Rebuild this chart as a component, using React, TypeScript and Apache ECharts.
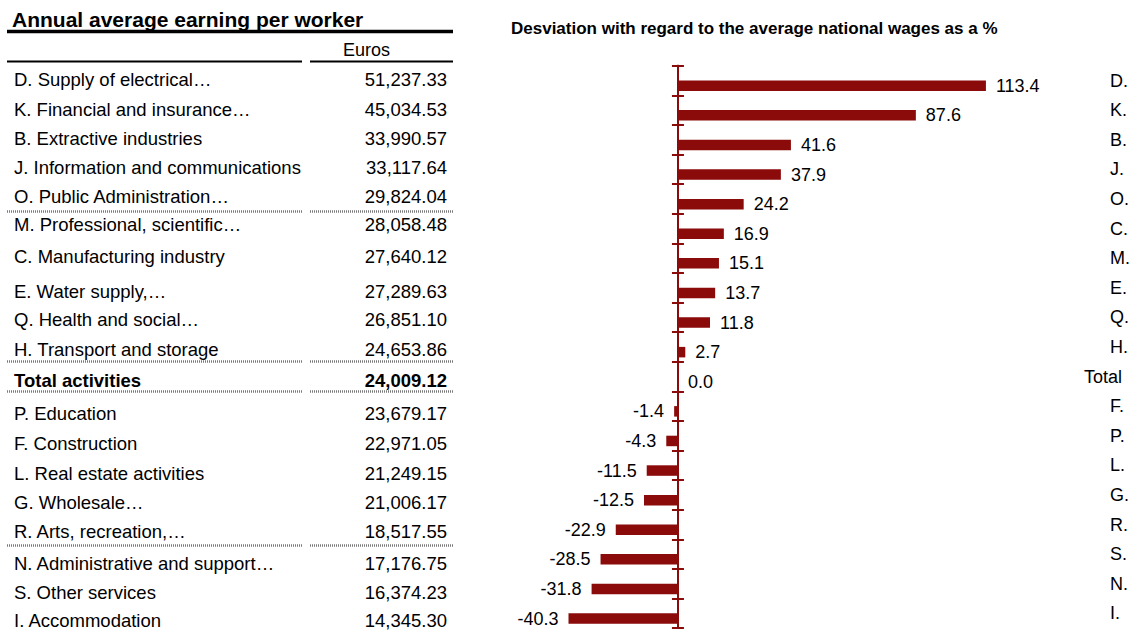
import React, { useEffect, useRef } from 'react';
import * as echarts from 'echarts';

// ---------- data ----------
const tableTitle = 'Annual average earning per worker';
const tableUnit = 'Euros';
const tableRows = [
  'D. Supply of electrical…',
  'K. Financial and insurance…',
  'B. Extractive industries',
  'J. Information and communications',
  'O. Public Administration…',
  'M. Professional, scientific…',
  'C. Manufacturing industry',
  'E. Water supply,…',
  'Q. Health and social…',
  'H. Transport and storage',
  'Total activities',
  'P. Education',
  'F. Construction',
  'L. Real estate activities',
  'G. Wholesale…',
  'R. Arts, recreation,…',
  'N. Administrative and support…',
  'S. Other services',
  'I. Accommodation',
];
const tableValues = [
  51237.33, 45034.53, 33990.57, 33117.64, 29824.04, 28058.48, 27640.12, 27289.63, 26851.1,
  24653.86, 24009.12, 23679.17, 22971.05, 21249.15, 21006.17, 18517.55, 17176.75, 16374.23, 14345.3,
];
const totalRowName = 'Total activities';

const chartTitle = 'Desviation with regard to the average national wages as a %';
const chartCategories = ['D.', 'K.', 'B.', 'J.', 'O.', 'C.', 'M.', 'E.', 'Q.', 'H.', 'Total', 'F.', 'P.', 'L.', 'G.', 'R.', 'S.', 'N.', 'I.'];
const chartValues = [113.4, 87.6, 41.6, 37.9, 24.2, 16.9, 15.1, 13.7, 11.8, 2.7, 0.0, -1.4, -4.3, -11.5, -12.5, -22.9, -28.5, -31.8, -40.3];

// ---------- layout (positions / styles) ----------
const FONT = '"Liberation Sans", Arial, sans-serif';
const RED = '#8B0A0A';
const rowY = [79.5, 109.5, 138.5, 167, 196, 224, 256.5, 291, 319.5, 349.5, 380, 413.5, 443, 473, 502, 531.5, 563.5, 592.5, 620.5];
const dottedY = [211.5, 361.5, 391.5, 545.5];

function fmt(v: number) {
  return v.toLocaleString('en-US', { minimumFractionDigits: 2, maximumFractionDigits: 2 });
}

function txt(text: string, x: number, y: number, font: string, align = 'left') {
  return {
    type: 'text',
    silent: true,
    style: {
      text,
      x,
      y,
      font,
      fill: '#000',
      align,
      textAlign: align,
      verticalAlign: 'middle',
      textVerticalAlign: 'middle',
    },
  };
}

function hline(x1: number, x2: number, y: number, width: number, stroke: string, dash?: number[]) {
  return {
    type: 'line',
    silent: true,
    shape: { x1, y1: y, x2, y2: y },
    style: { stroke, lineWidth: width, lineDash: dash || null },
  };
}

export default function App() {
  const ref = useRef<HTMLDivElement>(null);

  useEffect(() => {
    document.body.style.margin = '0';
    const chart = echarts.init(ref.current!, null, { renderer: 'svg' });

    const graphics: any[] = [];
    graphics.push(txt(tableTitle, 12, 19.5, `bold 21px ${FONT}`));
    graphics.push(hline(7, 453, 31.5, 3.5, '#000'));
    graphics.push(txt(tableUnit, 343, 50, `18px ${FONT}`));
    graphics.push(hline(7, 302, 61.5, 2.2, '#000'));
    graphics.push(hline(310, 453, 61.5, 2.2, '#000'));
    tableRows.forEach((name, i) => {
      const bold = name === totalRowName;
      const f = `${bold ? 'bold ' : ''}18.5px ${FONT}`;
      graphics.push(txt(name, 14, rowY[i], f));
      graphics.push(txt(fmt(tableValues[i]), 447, rowY[i], f, 'right'));
    });
    dottedY.forEach((y) => {
      graphics.push(hline(7, 302, y, 2.5, '#7a7a7a', [1, 1]));
      graphics.push(hline(310, 453, y, 2.5, '#7a7a7a', [1, 1]));
    });
    graphics.push(txt(chartTitle, 511, 28, `bold 17px ${FONT}`));

    const catAxisBase = {
      type: 'category',
      data: chartCategories,
      inverse: true,
      axisLabel: { show: false },
      splitLine: { show: false },
    };

    chart.setOption({
      animation: false,
      textStyle: { fontFamily: FONT },
      grid: { left: 515, top: 65.7, width: 520.6, height: 562.4, containLabel: false },
      xAxis: { type: 'value', min: -60, max: 130, show: false },
      yAxis: [
        {
          ...catAxisBase,
          position: 'left',
          axisLine: { show: true, onZero: true, onZeroAxisIndex: 0, lineStyle: { color: RED, width: 2 } },
          axisTick: { show: true, length: 6, lineStyle: { color: RED, width: 2 } },
        },
        {
          ...catAxisBase,
          position: 'right',
          axisLine: { show: true, onZero: true, onZeroAxisIndex: 0, lineStyle: { color: RED, width: 2 } },
          axisTick: { show: true, length: 6, lineStyle: { color: RED, width: 2 } },
        },
        {
          type: 'category',
          data: chartCategories.map((c) => (c === 'Total' ? { value: c, textStyle: { align: 'center', padding: 0 } } : c)),
          inverse: true,
          position: 'right',
          axisLine: { show: false, onZero: false },
          axisTick: { show: false },
          splitLine: { show: false },
          axisLabel: { show: true, margin: 72, fontSize: 18, color: '#000', align: 'left', padding: [0, 0, 0, 7], fontFamily: FONT },
        },
      ],
      series: [
        {
          type: 'bar',
          yAxisIndex: 0,
          barWidth: 10.5,
          barGap: 0,
          silent: true,
          data: chartValues.map(() => '-'),
        },
        {
          type: 'bar',
          yAxisIndex: 0,
          barWidth: 10.5,
          barGap: 0,
          itemStyle: { color: RED },
          label: {
            show: true,
            fontSize: 18,
            color: '#000',
            distance: 10,
            fontFamily: FONT,
            formatter: (p: any) => Number(p.value).toFixed(1),
          },
          data: chartValues.map((v) => ({ value: v, label: { position: v < 0 ? 'left' : 'right' } })),
        },
      ],
      graphic: graphics,
    });

    return () => chart.dispose();
  }, []);

  return <div ref={ref} style={{ width: 1133, height: 633 }} />;
}
